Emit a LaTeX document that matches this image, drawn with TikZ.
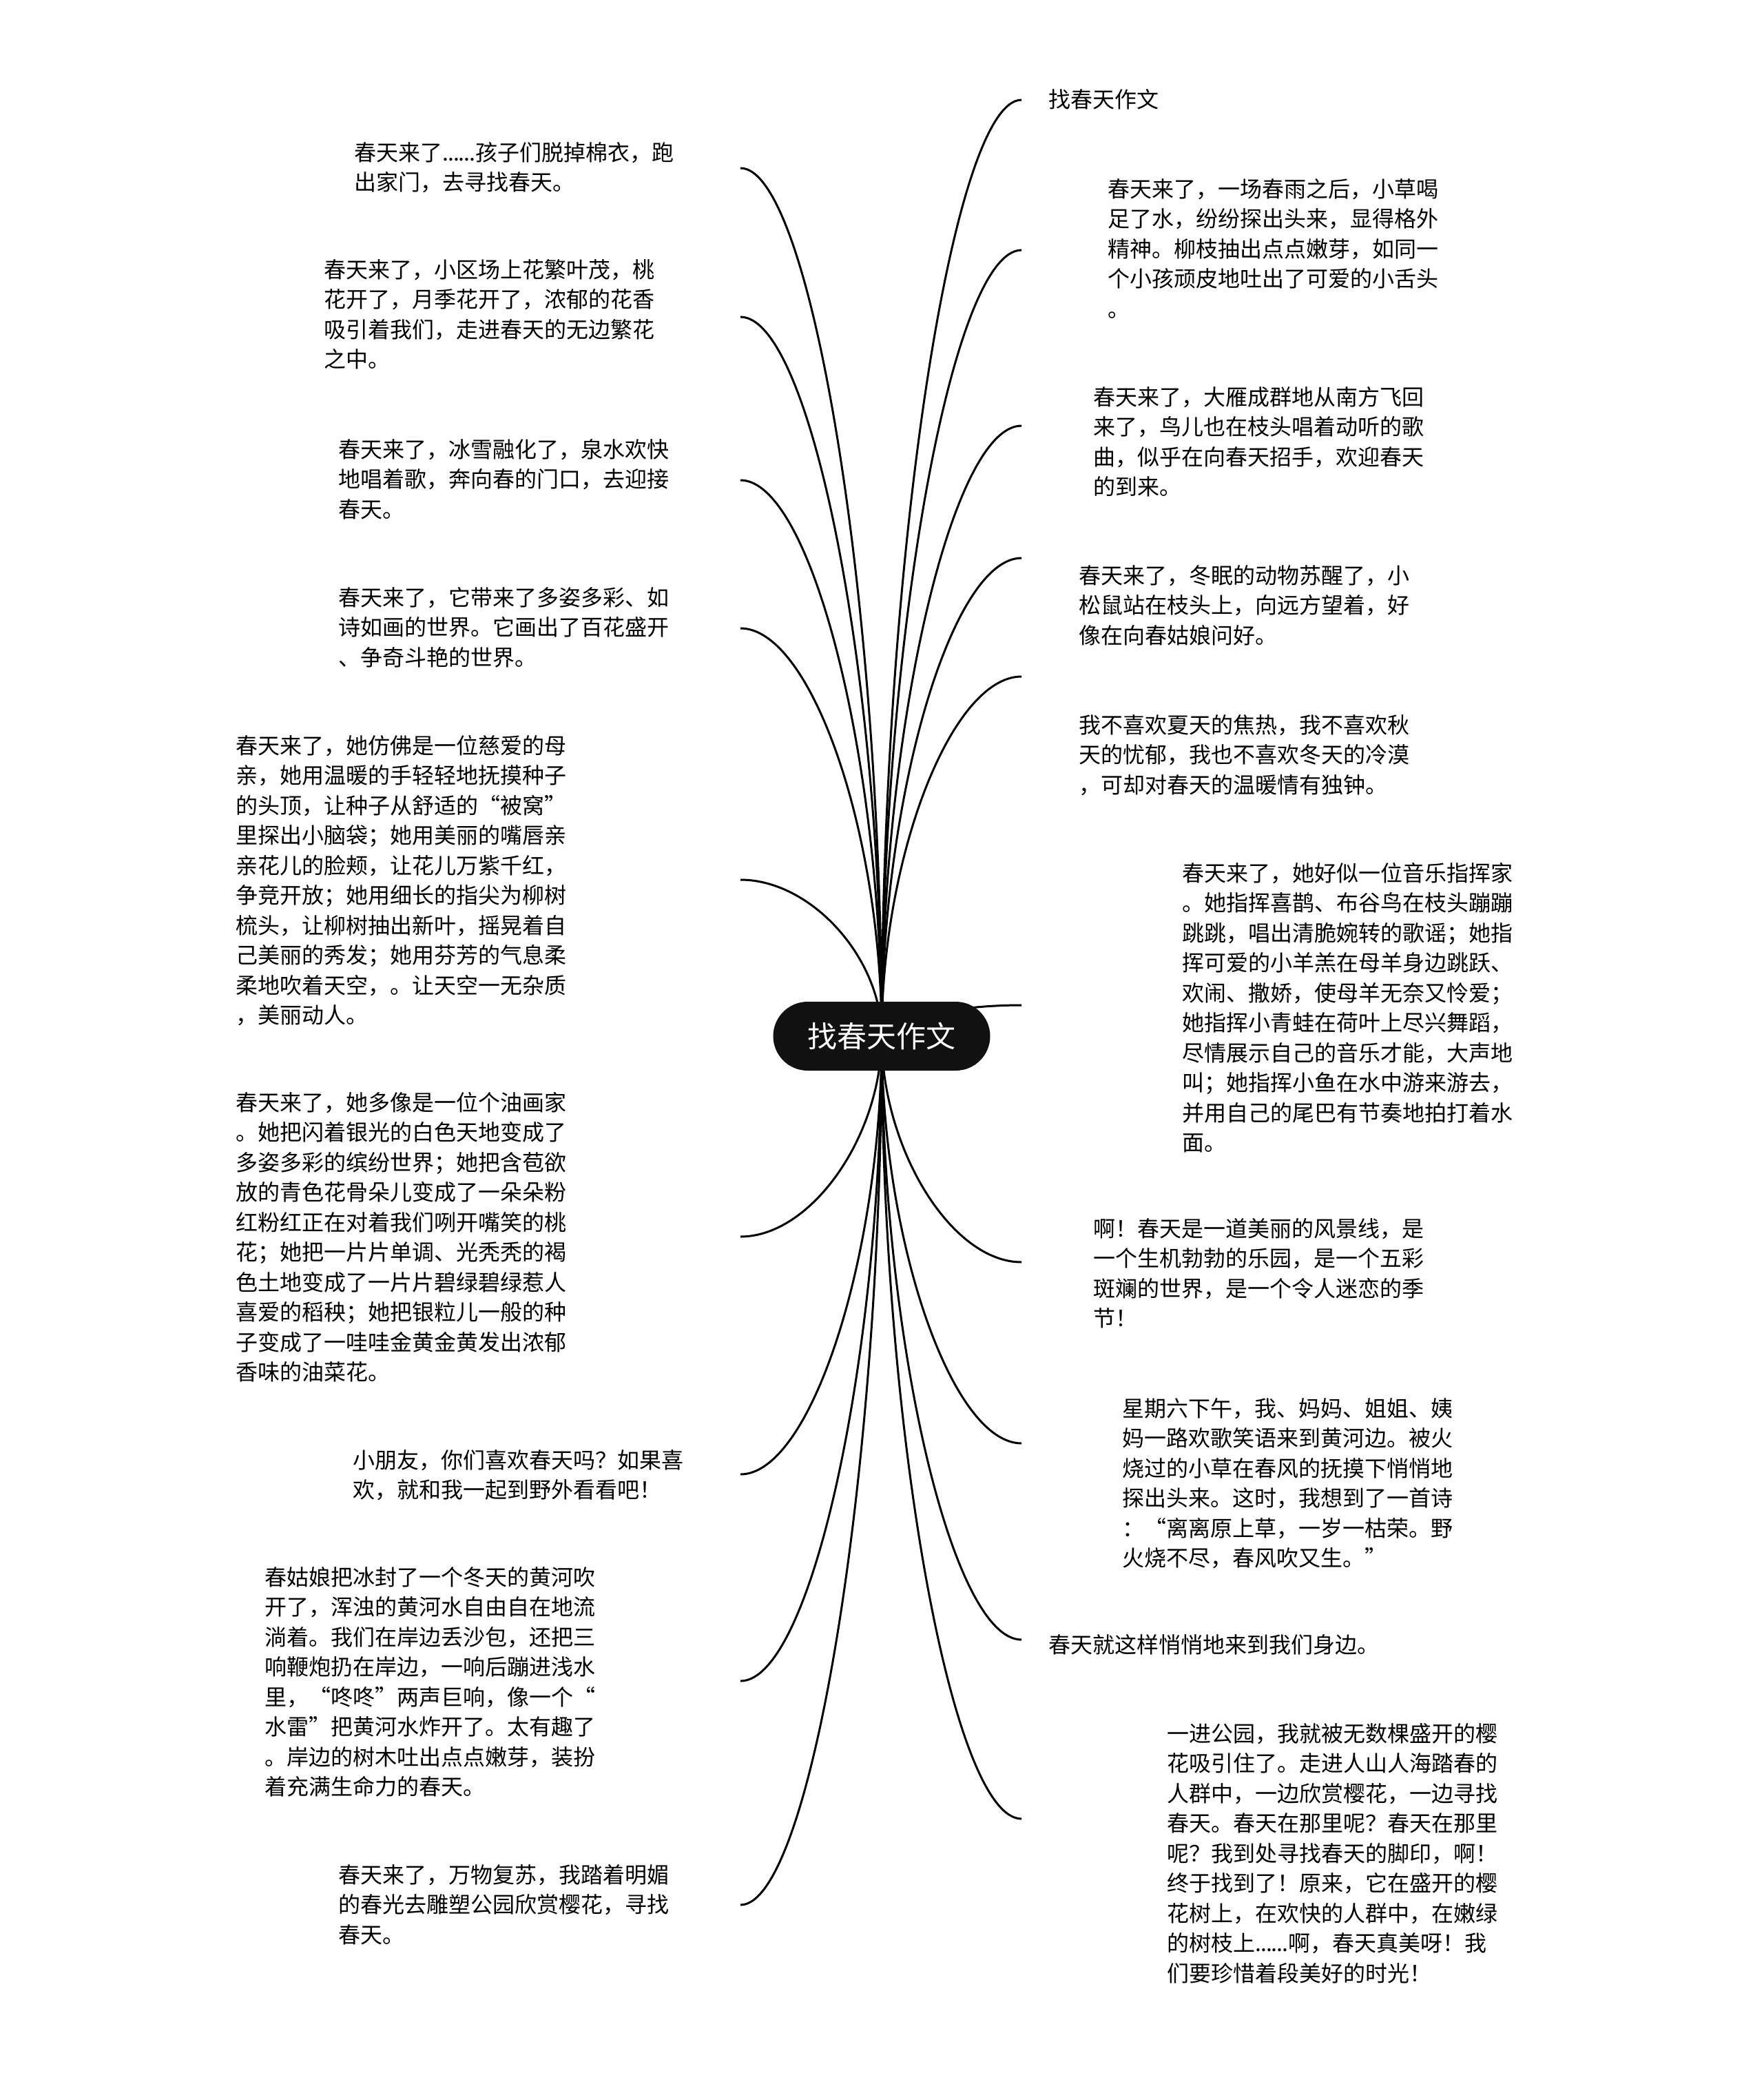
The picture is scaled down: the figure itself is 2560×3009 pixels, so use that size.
\documentclass[tikz,border=0pt]{standalone}
\usepackage{fontspec}
\setmainfont{Noto Sans CJK SC}
\usetikzlibrary{calc,backgrounds}
\newcommand{\dotrun}{.\kern-1pt.\kern-1pt.\kern-1pt.\kern-1pt.\kern-1pt.}
\begin{document}
\begin{tikzpicture}[x=1pt,y=-1pt,
  leaf/.style={anchor=north west,inner sep=0pt,align=left,font=\fontsize{32}{43.5}\selectfont,text=black},
  conn/.style={line width=3pt,to path={let \p1=(\tikztostart),\p2=(\tikztotarget) in .. controls (\x1,{0.5*\y1+0.5*\y2}) and ({0.5*\x1+0.5*\x2},\y2) .. (\tikztotarget)}},
  rootbox/.style={fill={rgb,255:red,17;green,17;blue,17},rounded corners=50pt,minimum width=315pt,minimum height=100pt,inner sep=0pt,text=white,font=\fontsize{43}{50}\selectfont}]
\useasboundingbox (0,0) rectangle (2560,3009);
\node[rootbox] (root) at (1280,1504) {找春天作文};
% end points of connectors
\coordinate (eL1) at (1075,244);
\coordinate (eL2) at (1075,460);
\coordinate (eL3) at (1075,697);
\coordinate (eL4) at (1075,912);
\coordinate (eL5) at (1075,1277);
\coordinate (eL6) at (1075,1795);
\coordinate (eL7) at (1075,2140);
\coordinate (eL8) at (1075,2440);
\coordinate (eL9) at (1075,2765);
\coordinate (eR1) at (1483,145);
\coordinate (eR2) at (1483,363);
\coordinate (eR3) at (1483,618);
\coordinate (eR4) at (1483,810);
\coordinate (eR5) at (1483,982);
\coordinate (eR6) at (1483,1459);
\coordinate (eR7) at (1483,1832);
\coordinate (eR8) at (1483,2095);
\coordinate (eR9) at (1483,2380);
\coordinate (eR10) at (1483,2640);
\begin{scope}[on background layer]
\fill[white] (0,0) rectangle (2560,3009);
\foreach \e in {eL1,eL2,eL3,eL4,eL5,eL6,eL7,eL8,eL9,eR1,eR2,eR3,eR4,eR5,eR6,eR7,eR8,eR9,eR10}
  \draw[conn] (root.center) to (\e);
\end{scope}
% left texts
\node[leaf] (L1) at (514,206) {春天来了\dotrun 孩子们脱掉棉衣，跑\\出家门，去寻找春天。};
\node[leaf] (L2) at (470,376) {春天来了，小区场上花繁叶茂，桃\\花开了，月季花开了，浓郁的花香\\吸引着我们，走进春天的无边繁花\\之中。};
\node[leaf] (L3) at (491,637) {春天来了，冰雪融化了，泉水欢快\\地唱着歌，奔向春的门口，去迎接\\春天。};
\node[leaf] (L4) at (491,852) {春天来了，它带来了多姿多彩、如\\诗如画的世界。它画出了百花盛开\\、争奇斗艳的世界。};
\node[leaf] (L5) at (342,1067) {春天来了，她仿佛是一位慈爱的母\\亲，她用温暖的手轻轻地抚摸种子\\的头顶，让种子从舒适的“被窝”\\里探出小脑袋；她用美丽的嘴唇亲\\亲花儿的脸颊，让花儿万紫千红，\\争竞开放；她用细长的指尖为柳树\\梳头，让柳树抽出新叶，摇晃着自\\己美丽的秀发；她用芬芳的气息柔\\柔地吹着天空，。让天空一无杂质\\，美丽动人。};
\node[leaf] (L6) at (342,1585) {春天来了，她多像是一位个油画家\\。她把闪着银光的白色天地变成了\\多姿多彩的缤纷世界；她把含苞欲\\放的青色花骨朵儿变成了一朵朵粉\\红粉红正在对着我们咧开嘴笑的桃\\花；她把一片片单调、光秃秃的褐\\色土地变成了一片片碧绿碧绿惹人\\喜爱的稻秧；她把银粒儿一般的种\\子变成了一哇哇金黄金黄发出浓郁\\香味的油菜花。};
\node[leaf] (L7) at (512,2104) {小朋友，你们喜欢春天吗？如果喜\\欢，就和我一起到野外看看吧！};
\node[leaf] (L8) at (384,2274) {春姑娘把冰封了一个冬天的黄河吹\\开了，浑浊的黄河水自由自在地流\\淌着。我们在岸边丢沙包，还把三\\响鞭炮扔在岸边，一响后蹦进浅水\\里，“咚咚”两声巨响，像一个“\\水雷”把黄河水炸开了。太有趣了\\。岸边的树木吐出点点嫩芽，装扮\\着充满生命力的春天。};
\node[leaf] (L9) at (491,2706) {春天来了，万物复苏，我踏着明媚\\的春光去雕塑公园欣赏樱花，寻找\\春天。};
% right texts
\node[leaf] (R1) at (1522,129) {找春天作文};
\node[leaf] (R2) at (1608,259) {春天来了，一场春雨之后，小草喝\\足了水，纷纷探出头来，显得格外\\精神。柳枝抽出点点嫩芽，如同一\\个小孩顽皮地吐出了可爱的小舌头\\。};
\node[leaf] (R3) at (1587,561) {春天来了，大雁成群地从南方飞回\\来了，鸟儿也在枝头唱着动听的歌\\曲，似乎在向春天招手，欢迎春天\\的到来。};
\node[leaf] (R4) at (1566,820) {春天来了，冬眠的动物苏醒了，小\\松鼠站在枝头上，向远方望着，好\\像在向春姑娘问好。};
\node[leaf] (R5) at (1566,1037) {我不喜欢夏天的焦热，我不喜欢秋\\天的忧郁，我也不喜欢冬天的冷漠\\，可却对春天的温暖情有独钟。};
\node[leaf] (R6) at (1716,1252) {春天来了，她好似一位音乐指挥家\\。她指挥喜鹊、布谷鸟在枝头蹦蹦\\跳跳，唱出清脆婉转的歌谣；她指\\挥可爱的小羊羔在母羊身边跳跃、\\欢闹、撒娇，使母羊无奈又怜爱；\\她指挥小青蛙在荷叶上尽兴舞蹈，\\尽情展示自己的音乐才能，大声地\\叫；她指挥小鱼在水中游来游去，\\并用自己的尾巴有节奏地拍打着水\\面。};
\node[leaf] (R7) at (1587,1768) {啊！春天是一道美丽的风景线，是\\一个生机勃勃的乐园，是一个五彩\\斑斓的世界，是一个令人迷恋的季\\节！};
\node[leaf] (R8) at (1629,2029) {星期六下午，我、妈妈、姐姐、姨\\妈一路欢歌笑语来到黄河边。被火\\烧过的小草在春风的抚摸下悄悄地\\探出头来。这时，我想到了一首诗\\：“离离原上草，一岁一枯荣。野\\火烧不尽，春风吹又生。”};
\node[leaf] (R9) at (1522,2372) {春天就这样悄悄地来到我们身边。};
\node[leaf] (R10) at (1694,2501) {一进公园，我就被无数棵盛开的樱\\花吸引住了。走进人山人海踏春的\\人群中，一边欣赏樱花，一边寻找\\春天。春天在那里呢？春天在那里\\呢？我到处寻找春天的脚印，啊！\\终于找到了！原来，它在盛开的樱\\花树上，在欢快的人群中，在嫩绿\\的树枝上\dotrun 啊，春天真美呀！我\\们要珍惜着段美好的时光！};
\end{tikzpicture}
\end{document}
